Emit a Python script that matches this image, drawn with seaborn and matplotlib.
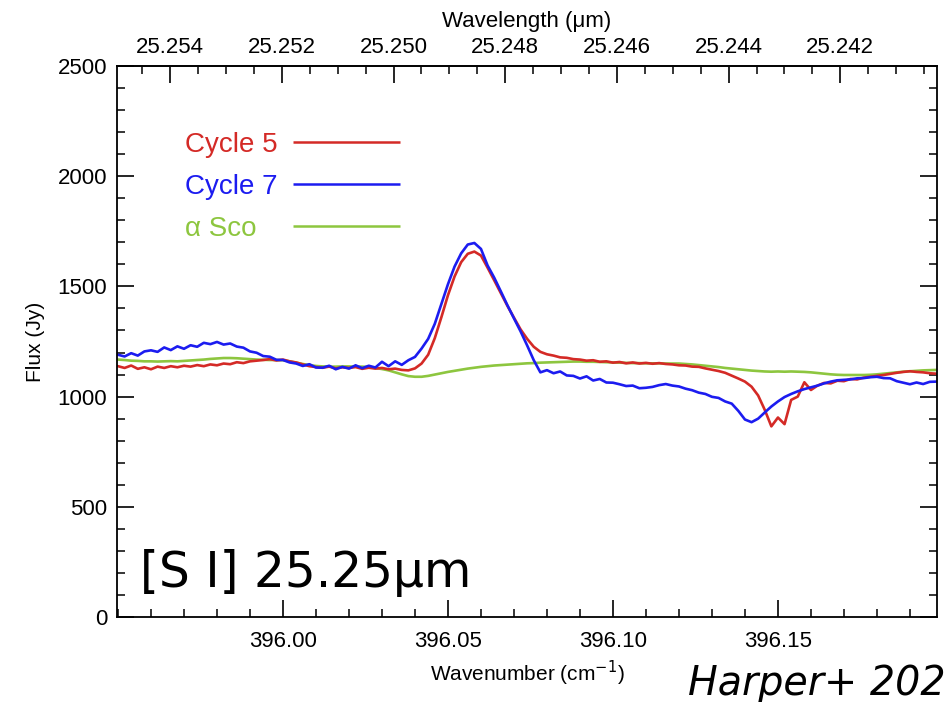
import numpy as np
import pandas as pd
import matplotlib
matplotlib.use("Agg")
import matplotlib.pyplot as plt
from matplotlib.ticker import MultipleLocator, FormatStrFormatter
import seaborn as sns

# Spectral channels (cm^-1), 0.002 cm^-1 spacing
wavenumber = np.round(np.arange(395.950, 396.1985, 0.002), 3)

# Flux (Jy) per channel
flux_cycle5 = [
    1138, 1130, 1141, 1126, 1133, 1124, 1136, 1130, 1138, 1133,
    1140, 1136, 1143, 1138, 1146, 1142, 1150, 1147, 1156, 1152,
    1160, 1163, 1166, 1170, 1164, 1168, 1160, 1155, 1146, 1138,
    1134, 1131, 1136, 1128, 1133, 1130, 1134, 1126, 1131, 1127,
    1130, 1124, 1127, 1121, 1119, 1128, 1150, 1190, 1265, 1360,
    1460, 1545, 1610, 1648, 1658, 1640, 1585, 1528, 1470, 1412,
    1358, 1305, 1262, 1226, 1203, 1192, 1186, 1178, 1176, 1170,
    1168, 1163, 1165, 1158, 1160, 1154, 1157, 1151, 1155, 1150,
    1153, 1149, 1152, 1148, 1146, 1142, 1141, 1136, 1135, 1128,
    1122, 1116, 1108, 1095, 1082, 1068, 1045, 1005, 940, 865,
    905, 875, 985, 1000, 1065, 1030, 1050, 1062, 1060, 1072,
    1070, 1080, 1078, 1086, 1090, 1094, 1098, 1103, 1108, 1112,
    1115, 1112, 1110, 1106, 1104,
]

flux_cycle7 = [
    1190, 1182, 1197, 1186, 1205, 1210, 1203, 1223, 1211, 1228,
    1217, 1233, 1226, 1244, 1238, 1248, 1236, 1241, 1227, 1222,
    1205, 1199, 1184, 1181, 1167, 1166, 1155, 1150, 1139, 1147,
    1132, 1131, 1140, 1124, 1135, 1127, 1142, 1129, 1140, 1132,
    1158, 1138, 1160, 1144, 1165, 1180, 1218, 1262, 1330, 1420,
    1510, 1590, 1650, 1690, 1697, 1670, 1595, 1540, 1478, 1415,
    1355, 1296, 1232, 1165, 1110, 1120, 1106, 1114, 1096, 1094,
    1082, 1092, 1073, 1080, 1064, 1063, 1056, 1048, 1050, 1038,
    1040, 1044, 1052, 1057, 1050, 1046, 1036, 1029, 1018, 1012,
    999, 994, 978, 968, 935, 896, 884, 900, 928, 955,
    978, 998, 1012, 1024, 1034, 1042, 1050, 1060, 1068, 1074,
    1076, 1078, 1083, 1084, 1088, 1090, 1084, 1083, 1070, 1063,
    1056, 1064, 1057, 1067, 1068,
]

flux_alpha_sco = [
    1168, 1166, 1163, 1162, 1160, 1160, 1159, 1160, 1161, 1160,
    1162, 1164, 1166, 1168, 1171, 1173, 1175, 1175, 1174, 1172,
    1170, 1168, 1167, 1166, 1166, 1165, 1160, 1154, 1148, 1143,
    1139, 1137, 1136, 1136, 1137, 1137, 1136, 1136, 1134, 1130,
    1125, 1119, 1110, 1101, 1093, 1090, 1090, 1094, 1100, 1106,
    1112, 1117, 1122, 1127, 1131, 1135, 1138, 1141, 1143, 1145,
    1147, 1149, 1151, 1152, 1154, 1155, 1156, 1157, 1158, 1159,
    1159, 1158, 1158, 1157, 1156, 1155, 1154, 1153, 1152, 1152,
    1151, 1151, 1151, 1150, 1150, 1150, 1148, 1146, 1143, 1140,
    1137, 1134, 1130, 1127, 1124, 1121, 1118, 1116, 1114, 1113,
    1114, 1113, 1114, 1113, 1112, 1110, 1107, 1104, 1101, 1099,
    1098, 1098, 1098, 1098, 1099, 1101, 1104, 1107, 1110, 1113,
    1115, 1117, 1119, 1120, 1121,
]

series_labels = ["Cycle 5", "Cycle 7", "α Sco"]
series_colors = ["#d42a26", "#1c1cf0", "#8dc63f"]

wavenumber_ticks = [396.00, 396.05, 396.10, 396.15]
wavelength_ticks = [25.254, 25.252, 25.250, 25.248, 25.246, 25.244, 25.242]
flux_ticks = [0, 500, 1000, 1500, 2000, 2500]

sns.set_theme(style="ticks")
plt.rcParams["font.family"] = ["Liberation Sans", "DejaVu Sans"]
plt.rcParams["axes.linewidth"] = 1.3
plt.rcParams["text.color"] = "black"
plt.rcParams["axes.labelcolor"] = "black"

df = pd.DataFrame({
    "wavenumber": np.tile(wavenumber, 3),
    "flux": np.concatenate([flux_cycle5, flux_cycle7, flux_alpha_sco]),
    "series": np.repeat(series_labels, len(wavenumber)),
})
palette = dict(zip(series_labels, series_colors))
# the reference star goes underneath the two epochs
draw_order = ["α Sco", "Cycle 5", "Cycle 7"]

fig = plt.figure(figsize=(9.51, 7.02), dpi=100)
ax = fig.add_axes([117 / 951, 85 / 702, 820 / 951, 551 / 702])

for name in draw_order:
    sns.lineplot(data=df[df["series"] == name], x="wavenumber", y="flux",
                 color=palette[name], lw=1.9, ax=ax, estimator=None,
                 sort=False, legend=False)

ax.set_xlim(395.9497, 396.1982)
ax.set_ylim(0, 2500)
ax.set_xticks(wavenumber_ticks)
ax.xaxis.set_major_formatter(FormatStrFormatter("%.2f"))
ax.xaxis.set_minor_locator(MultipleLocator(0.01))
ax.set_yticks(flux_ticks)
ax.yaxis.set_minor_locator(MultipleLocator(100))
ax.tick_params(axis="both", which="both", direction="in", colors="black",
               labelsize=16)
ax.tick_params(axis="x", which="both", top=False, bottom=True)
ax.tick_params(axis="y", which="both", left=True, right=True)
ax.tick_params(which="major", length=12, width=1.2)
ax.tick_params(which="minor", length=6, width=1.1)
ax.tick_params(axis="x", pad=10)
ax.tick_params(axis="y", pad=7)
ax.set_xlabel("Wavenumber (cm$^{-1}$)", fontsize=15, labelpad=5)
ax.set_ylabel("Flux (Jy)", fontsize=15, labelpad=9)
for s in ax.spines.values():
    s.set_visible(True)
    s.set_color("black")
ax.grid(False)


def wn_to_lam(wn):
    return 25.25198 - 0.05909 * (np.asarray(wn) - 396.0)


def lam_to_wn(lam):
    return 396.0 + (25.25198 - np.asarray(lam)) / 0.05909


top = ax.secondary_xaxis("top", functions=(wn_to_lam, lam_to_wn))
top.set_xticks(wavelength_ticks)
top.xaxis.set_major_formatter(FormatStrFormatter("%.3f"))
top.xaxis.set_minor_locator(MultipleLocator(0.0005))
top.tick_params(which="both", direction="in", labelsize=16, pad=6,
                colors="black")
top.tick_params(which="major", length=12, width=1.2)
top.tick_params(which="minor", length=6, width=1.1)
top.set_xlabel("Wavelength (μm)", fontsize=16, labelpad=7, color="black")

# key: label on the left, sample line to its right
key_rows = [0.862, 0.786, 0.710]
for label, color, y in zip(series_labels, series_colors, key_rows):
    ax.text(0.083, y, label, transform=ax.transAxes, color=color,
            fontsize=20, va="center_baseline", ha="left")
    ax.plot([0.2146, 0.3451], [y, y], transform=ax.transAxes,
            color=color, lw=1.8, solid_capstyle="butt")

fig.text(140 / 951, 1 - 587 / 702, "[S I] 25.25μm", fontsize=35,
         family="DejaVu Sans", va="baseline", ha="left", color="black")
fig.text(688 / 951, 1 - 695 / 702, "Harper+ 202", fontsize=28.5,
         family="DejaVu Sans", style="italic", va="baseline", ha="left",
         color="black")

fig.savefig("out.png", dpi=100, facecolor="white")
